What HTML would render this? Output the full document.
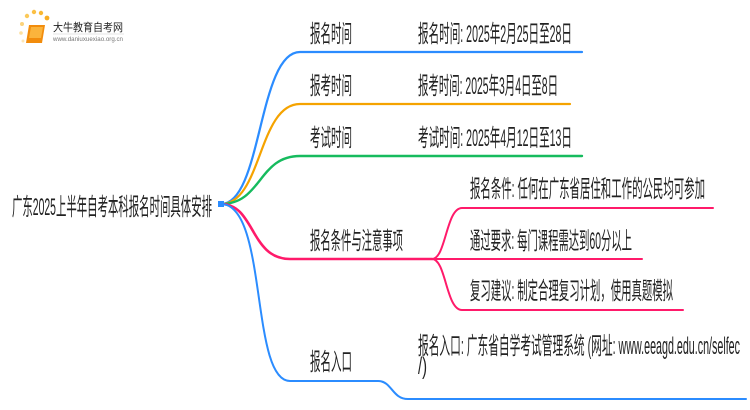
<!DOCTYPE html>
<html><head><meta charset="utf-8"><style>
html,body{margin:0;padding:0;background:#fff;width:750px;height:410px;overflow:hidden}
text{font-family:"Liberation Sans","Noto Sans CJK SC",sans-serif;fill:#222}
</style></head><body>
<svg width="750" height="410" viewBox="0 0 750 410" xmlns="http://www.w3.org/2000/svg">
<g>
<circle cx="22" cy="24" r="2" fill="#fbd27a"/><circle cx="27" cy="16" r="2.2" fill="#fbc95a"/><circle cx="34" cy="12" r="2.2" fill="#fbc044"/><circle cx="41" cy="13" r="2.2" fill="#f9b833"/><circle cx="47" cy="18" r="2.4" fill="#f8ad22"/><circle cx="21" cy="33" r="1.8" fill="#fde0a0"/><circle cx="23" cy="41" r="1.5" fill="#fde6b5"/>
<path d="M29 25 L45 25 L42 43 L26 43 Z" fill="#f28c0c"/>
<path d="M31 27 L43 27 L41 38 L29 38 Z" fill="#fbb43c"/>
<text x="53" y="31" font-size="11" textLength="70" lengthAdjust="spacingAndGlyphs">大牛教育自考网</text>
<line x1="53" y1="34" x2="124" y2="34" stroke="#ccc" stroke-width="0.6"/>
<text x="53" y="41" font-size="6" style="fill:#777" textLength="70" lengthAdjust="spacingAndGlyphs">www.daniuxuexiao.org.cn</text>
</g>
<g fill="none" stroke-linecap="round">
<path d="M221 204 C 262 204, 258 52, 300 52 L 582 52" stroke="#2b8cff" stroke-width="2.2"/>
<path d="M221 204 C 262 204, 258 104, 300 104 L 570 104" stroke="#f5a300" stroke-width="2.2"/>
<path d="M221 204 C 262 204, 258 156, 300 156 L 582 156" stroke="#16bb5e" stroke-width="2.4"/>
<path d="M221 204 C 255 204, 250 259, 290 259 L 432 259" stroke="#ff1a6a" stroke-width="2.6"/>
<path d="M432 259 C 446 259, 446 208, 462 208 L 713 208" stroke="#ff1a6a" stroke-width="2"/>
<path d="M432 259 L 642 259" stroke="#ff1a6a" stroke-width="2"/>
<path d="M432 259 C 446 259, 446 310, 462 310 L 683 310" stroke="#ff1a6a" stroke-width="2"/>
<path d="M221 204 C 268 204, 250 381, 290 381 L 378 381 C 392 381, 392 399, 408 399 L 746 399" stroke="#2b8cff" stroke-width="2"/>
</g>
<rect x="218" y="201" width="6" height="6" fill="#2b8cff"/>
<g font-size="24">
<text x="12" y="215" textLength="200" lengthAdjust="spacingAndGlyphs">广东2025上半年自考本科报名时间具体安排</text>
<text x="310" y="42" textLength="42" lengthAdjust="spacingAndGlyphs">报名时间</text>
<text x="418" y="42" textLength="154" lengthAdjust="spacingAndGlyphs">报名时间: 2025年2月25日至28日</text>
<text x="310" y="94" textLength="42" lengthAdjust="spacingAndGlyphs">报考时间</text>
<text x="418" y="94" textLength="140" lengthAdjust="spacingAndGlyphs">报考时间: 2025年3月4日至8日</text>
<text x="310" y="146" textLength="42" lengthAdjust="spacingAndGlyphs">考试时间</text>
<text x="418" y="146" textLength="154" lengthAdjust="spacingAndGlyphs">考试时间: 2025年4月12日至13日</text>
<text x="310" y="249" textLength="93" lengthAdjust="spacingAndGlyphs">报名条件与注意事项</text>
<text x="470" y="197" textLength="235" lengthAdjust="spacingAndGlyphs">报名条件: 任何在广东省居住和工作的公民均可参加</text>
<text x="470" y="249" textLength="162" lengthAdjust="spacingAndGlyphs">通过要求: 每门课程需达到60分以上</text>
<text x="470" y="299" textLength="203" lengthAdjust="spacingAndGlyphs">复习建议: 制定合理复习计划，使用真题模拟</text>
<text x="310" y="370" textLength="42" lengthAdjust="spacingAndGlyphs">报名入口</text>
<text x="418" y="354" textLength="322" lengthAdjust="spacingAndGlyphs">报名入口: 广东省自学考试管理系统 (网址: www.eeagd.edu.cn/selfec</text>
<text x="418" y="374" textLength="9" lengthAdjust="spacingAndGlyphs">/)</text>
</g>
</svg>
</body></html>
